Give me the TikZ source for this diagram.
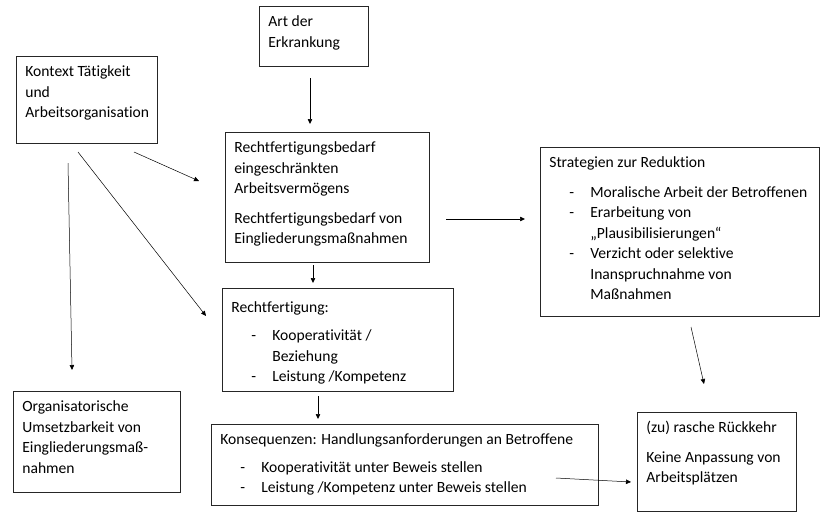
\documentclass[tikz,border=0pt]{standalone}
\usepackage{fontspec}
\setmainfont{Carlito}[Ligatures={NoCommon}]
\usetikzlibrary{arrows.meta}
\newcommand{\boxtext}[3]{\begin{minipage}[t][#2][t]{#1}\begin{tabular}[t]{@{}l@{}}#3\end{tabular}\end{minipage}}
\newcommand{\dashitem}[1]{\makebox[41pt][l]{\hspace*{20pt}-}#1}
\newcommand{\dashcont}{\hspace*{41pt}}
\begin{document}
\begin{tikzpicture}[
  x=1pt, y=-1pt,
  box/.style={draw=black!85, line width=0.7pt, anchor=north west, inner xsep=9pt, inner ysep=6pt,
              font=\fontsize{15.6}{20.5}\selectfont},
  arrow/.style={-{Triangle[length=5pt,width=4.5pt]}, line width=0.5pt}
]
\useasboundingbox (0,0) rectangle (822,512);

\node[box] (art) at (259,6) {\boxtext{91pt}{48pt}{Art der\\ Erkrankung}};
\node[box] (kontext) at (16,56) {\boxtext{123pt}{75pt}{Kontext Tätigkeit\\ und\\ Arbeitsorganisation}};
\node[box] (rb) at (225,132) {\boxtext{186pt}{118pt}{Rechtfertigungsbedarf\\ eingeschränkten\\ Arbeitsvermögens\\[9pt]
  Rechtfertigungsbedarf von\\ Eingliederungsmaßnahmen}};
\node[box] (strat) at (540,147) {\boxtext{261pt}{157pt}{Strategien zur Reduktion\\[9pt]
  \dashitem{Moralische Arbeit der Betroffenen}\\ \dashitem{Erarbeitung von}\\ \dashcont „Plausibilisierungen“\\
  \dashitem{Verzicht oder selektive}\\ \dashcont Inanspruchnahme von\\ \dashcont Maßnahmen}};
\node[box] (recht) at (222,288) {\boxtext{213pt}{91pt}{\rule{0pt}{18pt}Rechtfertigung:\\[8pt]
  \dashitem{Kooperativität /}\\ \dashcont Beziehung\\ \dashitem{Leistung /Kompetenz}}};
\node[box] (org) at (13,391) {\boxtext{149pt}{89pt}{Organisatorische\\ Umsetzbarkeit von\\ Eingliederungsmaß-\\ nahmen}};
\node[box] (kons) at (211,424) {\boxtext{369pt}{69pt}{Konsequenzen: Handlungsanforderungen an Betroffene\\[7pt]
  \dashitem{Kooperativität unter Beweis stellen}\\ \dashitem{Leistung /Kompetenz unter Beweis stellen}}};
\node[box] (rueck) at (637,412) {\boxtext{141pt}{87pt}{(zu) rasche Rückkehr\\[9pt] Keine Anpassung von\\ Arbeitsplätzen}};

% arrow ends (the arrows stop short of the boxes)
\coordinate (art-out) at (310,78);   \coordinate (rb-in1) at (310,124);
\coordinate (ko-out1) at (134,152);  \coordinate (rb-in2) at (199,181);
\coordinate (ko-out2) at (78,152);   \coordinate (recht-in1) at (206,316);
\coordinate (ko-out3) at (68,163);   \coordinate (org-in) at (72,370);
\coordinate (rb-out1) at (313,265);  \coordinate (recht-in2) at (313,283);
\coordinate (rb-out2) at (446,219);  \coordinate (strat-in) at (525,219);
\coordinate (recht-out) at (318,396); \coordinate (kons-in) at (318,419);
\coordinate (strat-out) at (691,327); \coordinate (rueck-in1) at (704,384);
\coordinate (kons-out) at (556,478);  \coordinate (rueck-in2) at (631,482);

\draw[arrow] (art-out) -- (rb-in1);
\draw[arrow] (ko-out1) -- (rb-in2);
\draw[arrow] (ko-out2) -- (recht-in1);
\draw[arrow] (ko-out3) -- (org-in);
\draw[arrow] (rb-out1) -- (recht-in2);
\draw[arrow] (rb-out2) -- (strat-in);
\draw[arrow] (recht-out) -- (kons-in);
\draw[arrow] (strat-out) -- (rueck-in1);
\draw[arrow] (kons-out) -- (rueck-in2);
\end{tikzpicture}
\end{document}
